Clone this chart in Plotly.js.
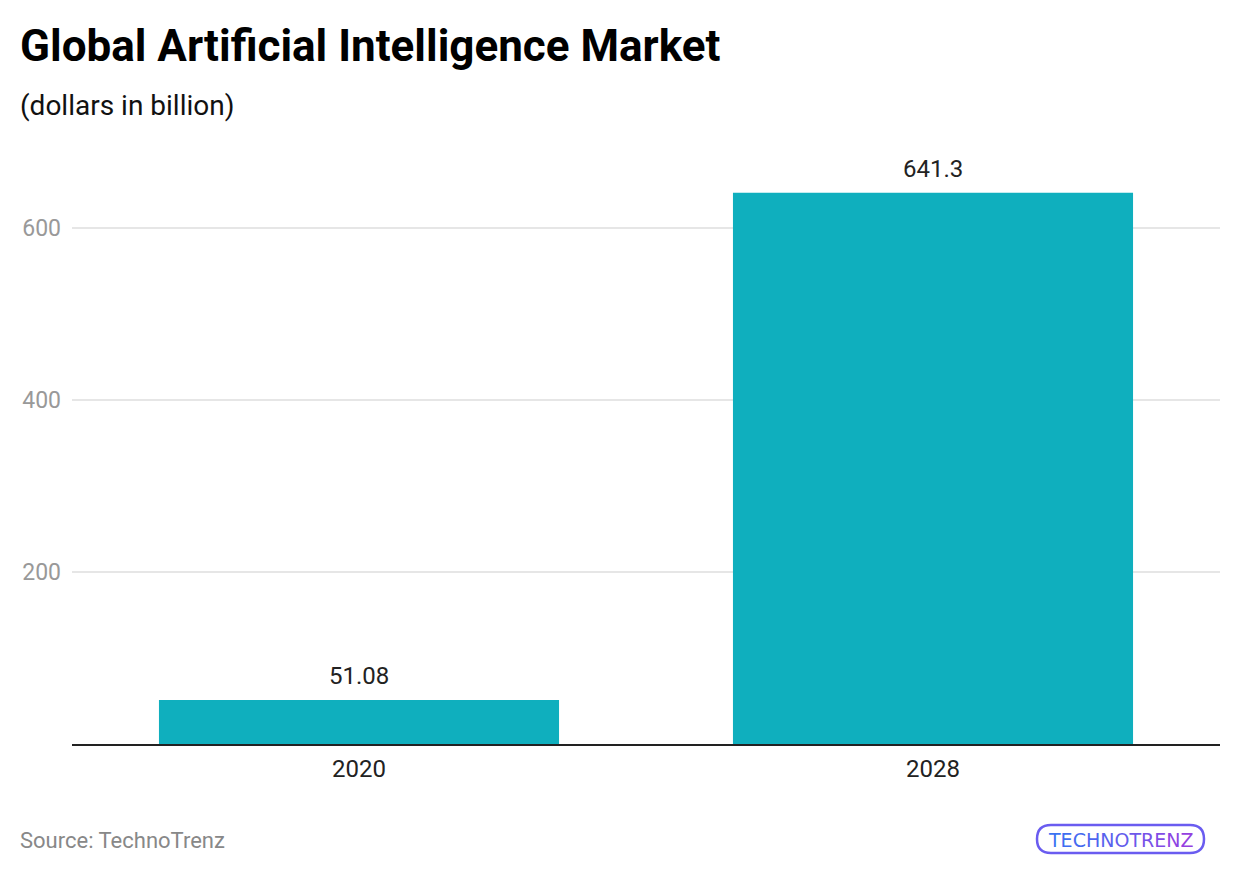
<!DOCTYPE html>
<html>
<head>
<meta charset="utf-8">
<script src="https://cdn.plot.ly/plotly-3.0.1.min.js"></script>
<style>html,body{margin:0;padding:0;background:#fff;}#chart{width:1240px;height:874px;}</style>
</head>
<body>
<div id="chart"></div>
<script>
const categories = ["2020", "2028"];
const values = [51.08, 641.3];
const valueLabels = ["51.08", "641.3"];
const yTicks = [200, 400, 600];

const trace = {
  type: 'bar',
  x: categories,
  y: values,
  marker: {color: '#0fafbe'},
  hoverinfo: 'none'
};

const PW = 1148, PH = 594, L = 72, T = 150;
const px = v => (v - L) / PW;
const py = v => (T + PH - v) / PH;

const logoLetters = "TECHNOTRENZ".split("");
const logoColors = ['#3a73f2','#3f6df1','#466af0','#4e66ef','#5862ee','#635dec','#6d58ea','#7752e8','#824ce6','#8c45e3','#9540e0'];
const logoText = logoLetters.map((c, i) => '<span style="color:' + logoColors[i] + '">' + c + '</span>').join('');

const annotations = [
  {xref: 'paper', yref: 'paper', x: px(18), y: py(46), xanchor: 'left', yanchor: 'middle',
   text: '<b>Global Artificial Intelligence Market</b>', showarrow: false,
   font: {family: 'Roboto', size: 44, color: '#000'}},
  {xref: 'paper', yref: 'paper', x: px(18), y: py(106), xanchor: 'left', yanchor: 'middle',
   text: '(dollars in billion)', showarrow: false,
   font: {family: 'Roboto', size: 28, color: '#111'}},
  {xref: 'paper', yref: 'paper', x: px(18), y: py(840), xanchor: 'left', yanchor: 'middle',
   text: 'Source: TechnoTrenz', showarrow: false,
   font: {family: 'Roboto', size: 22, color: '#888'}},
  {xref: 'paper', yref: 'paper', x: px(1120), y: py(840), xanchor: 'center', yanchor: 'middle',
   text: logoText, showarrow: false,
   font: {family: 'DejaVu Sans', size: 19, color: '#5b5bf0'}}
];
categories.forEach((c, i) => {
  annotations.push({
    x: i, y: values[i], xref: 'x', yref: 'y', xanchor: 'center', yanchor: 'bottom',
    yshift: 8, text: valueLabels[i], showarrow: false,
    font: {family: 'Roboto', size: 24, color: '#222'}
  });
});

const layout = {
  width: 1240, height: 874,
  margin: {l: L, r: 20, t: T, b: 130},
  paper_bgcolor: '#fff', plot_bgcolor: '#fff',
  bargap: 0.303,
  showlegend: false,
  font: {family: 'Roboto'},
  xaxis: {
    type: 'category',
    range: [-0.5, categories.length - 0.5],
    showline: true, linecolor: '#222', linewidth: 2,
    tickfont: {family: 'Roboto', size: 24, color: '#222'},
    ticks: '', showgrid: false, zeroline: false,
    ticklabelstandoff: 2,
    fixedrange: true
  },
  yaxis: {
    range: [0, 691],
    tickvals: yTicks,
    ticktext: yTicks.map(String),
    tickfont: {family: 'Roboto', size: 23, color: '#999'},
    showgrid: true, gridcolor: '#e6e6e6', gridwidth: 1.5,
    zeroline: false, showline: false, ticks: '',
    ticklabelstandoff: 10,
    fixedrange: true
  },
  annotations: annotations,
  shapes: [
    {type: 'path', xref: 'paper', yref: 'paper',
     xsizemode: 'pixel', ysizemode: 'pixel', xanchor: px(1120.5), yanchor: py(839),
     path: 'M -69.5,-14 L 69.5,-14 Q 83.5,-14 83.5,0 Q 83.5,14 69.5,14 L -69.5,14 Q -83.5,14 -83.5,0 Q -83.5,-14 -69.5,-14 Z',
     line: {color: '#6a5cf0', width: 2.5}, fillcolor: 'rgba(0,0,0,0)'}
  ]
};

Plotly.newPlot('chart', [trace], layout, {displayModeBar: false, staticPlot: true});
</script>
</body>
</html>
